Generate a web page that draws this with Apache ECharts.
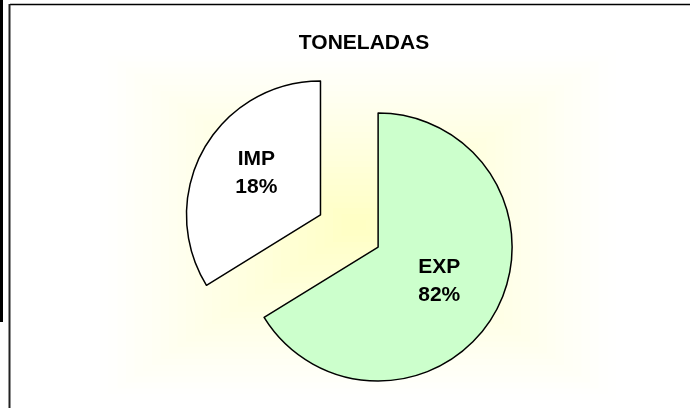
<!DOCTYPE html>
<html>
<head>
<meta charset="utf-8">
<script src="https://cdn.jsdelivr.net/npm/echarts@6/dist/echarts.min.js"></script>
<style>
html,body{margin:0;padding:0;background:#fff;}
#c{width:690px;height:408px;}
</style>
</head>
<body>
<div id="c"></div>
<script>
// Data
var chartTitle = 'TONELADAS';
var categories = ['EXP', 'IMP'];
var sliceValues = [66.2, 33.8];      // slice sizes as drawn
var pctLabels = ['82%', '18%'];      // label text as printed

var chart = echarts.init(document.getElementById('c'), null, {renderer: 'canvas'});

// rectangular "from centre" gradient, pale yellow centre -> white
var bg = [];
var N = 30, x0 = 100, x1 = 616, y0 = 50, y1 = 400;
var cx = (x0 + x1) / 2, cy = (y0 + y1) / 2;
for (var i = 0; i < N; i++) {
  var t = i / (N - 1);
  var hw = (x1 - x0) / 2 * (1 - t * 0.97), hh = (y1 - y0) / 2 * (1 - t * 0.97);
  var b = Math.round(254 - (254 - 196) * Math.pow(t, 1.1));
  bg.push({type: 'rect', silent: true, z: -10 + i * 0.01,
    shape: {x: cx - hw, y: cy - hh, width: hw * 2, height: hh * 2},
    style: {fill: 'rgb(255,255,' + b + ')'}});
}
bg.push({type: 'rect', silent: true, z: 5, shape: {x: 0, y: 0, width: 3, height: 322}, style: {fill: '#000'}});
bg.push({type: 'line', silent: true, z: 5, shape: {x1: 10, y1: 4.5, x2: 690, y2: 4.5}, style: {stroke: '#000', lineWidth: 1.5}});
bg.push({type: 'line', silent: true, z: 5, shape: {x1: 9.5, y1: 4, x2: 9.5, y2: 408}, style: {stroke: '#222', lineWidth: 2}});

var data = categories.map(function (c, i) {
  var d = {name: c, value: sliceValues[i], selected: true,
    itemStyle: {color: i === 0 ? '#CCFFCC' : '#FFFFFF'}};
  if (i === 1) d.label = {padding: [0, 6, 0, 0]};
  return d;
});

var txt = {fontFamily: 'Liberation Sans, Arial, sans-serif', fontWeight: 'bold', fontSize: 21, lineHeight: 28, color: '#000'};

chart.setOption({
  backgroundColor: '#FFFFFF',
  animation: false,
  title: {
    text: chartTitle, left: 359, top: 28, textAlign: 'center',
    textStyle: {fontFamily: 'Liberation Sans, Arial, sans-serif', fontWeight: 'bold', fontSize: 21, color: '#000'}
  },
  graphic: bg,
  series: [{
    type: 'pie',
    center: [349.3, 231],
    radius: [0, 134],
    startAngle: 90,
    clockwise: true,
    selectedMode: 'multiple',
    selectedOffset: 33,
    avoidLabelOverlap: false,
    itemStyle: {borderColor: '#000', borderWidth: 1.5},
    label: {
      show: true, position: 'inside',
      formatter: function (p) {
        var s = '{t|' + p.name + '}\n{t|' + pctLabels[p.dataIndex] + '}';
        if (p.dataIndex === 1) s += '\n{g|}';
        return s;
      },
      rich: {t: txt, g: {lineHeight: 16, fontSize: 1}}
    },
    labelLine: {show: false},
    emphasis: {disabled: true},
    data: data
  }]
});
</script>
</body>
</html>
